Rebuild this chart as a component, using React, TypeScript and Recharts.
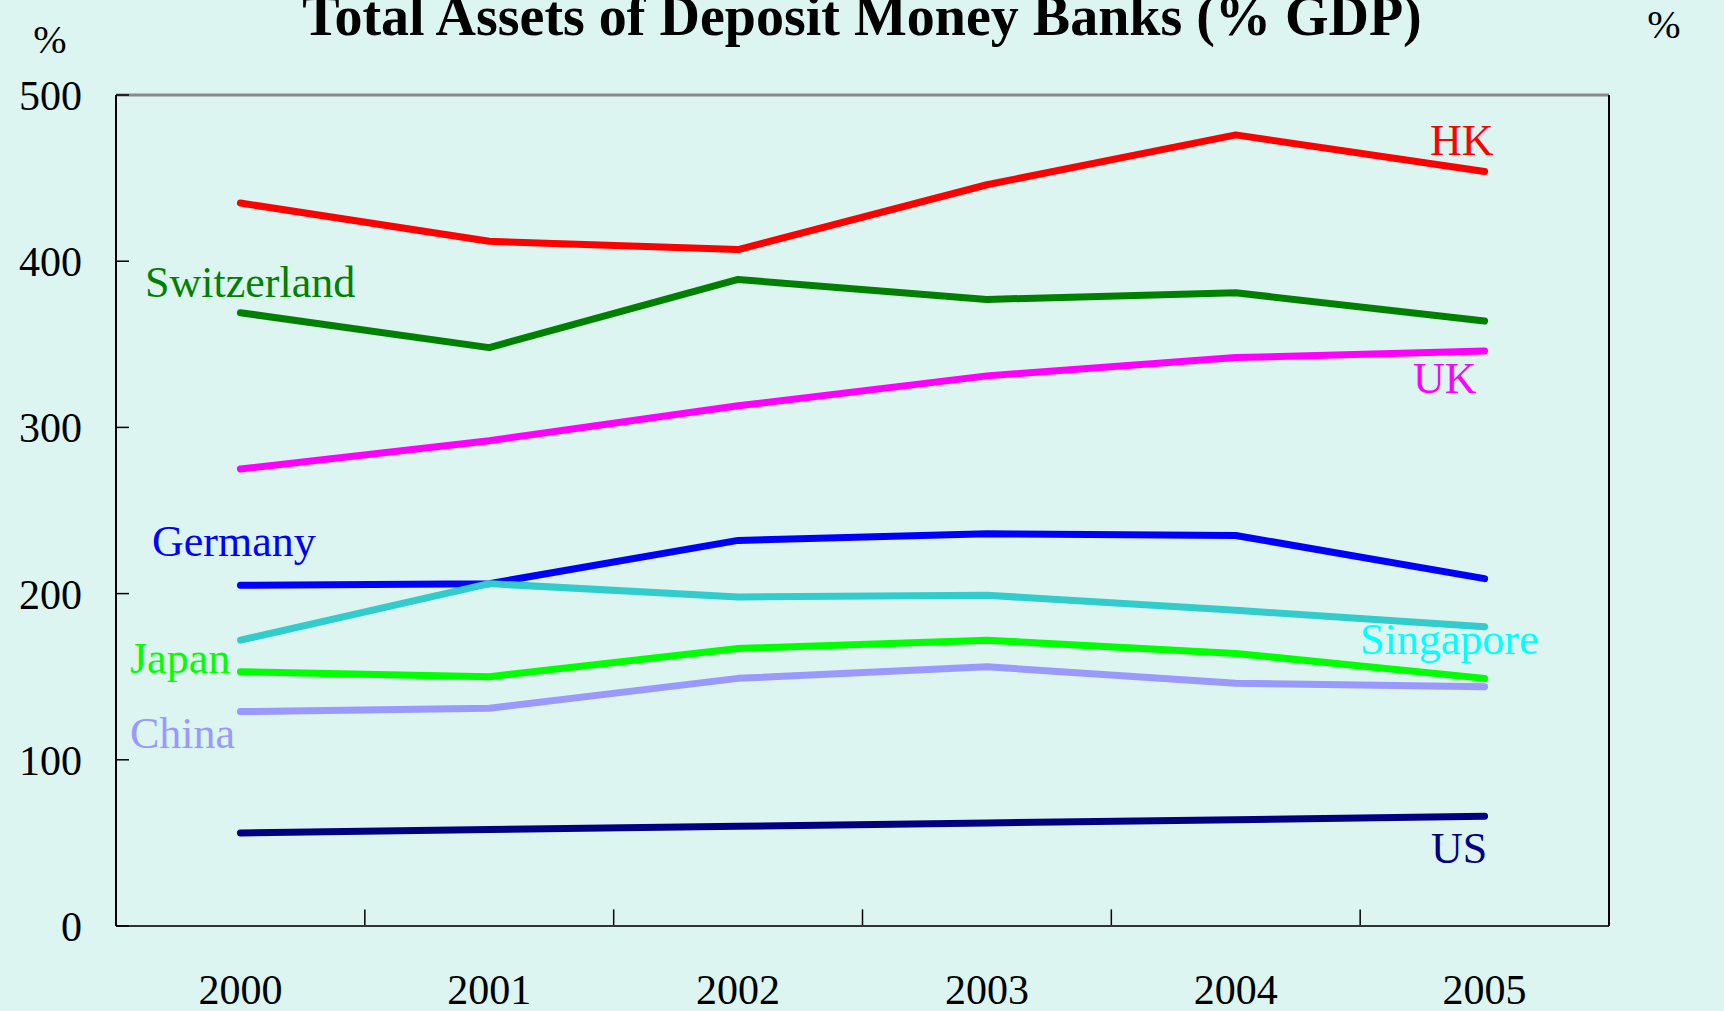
import React from "react";
import { LineChart, Line, XAxis, YAxis, CartesianGrid, ReferenceLine } from "recharts";

const years = ["2000", "2001", "2002", "2003", "2004", "2005"];
const hk = [435, 412, 407, 446, 476, 454];
const switzerland = [369, 348, 389, 377, 381, 364];
const uk = [275, 292, 313, 331, 342, 346];
const germany = [205, 206, 232, 236, 235, 209];
const singapore = [172, 206, 198, 199, 190, 180];
const japan = [153, 150, 167, 172, 164, 149];
const china = [129, 131, 149, 156, 146, 144];
const us = [56, 58, 60, 62, 64, 66];
const yTicks = [0, 100, 200, 300, 400, 500];
const dividers = [0.5, 1.5, 2.5, 3.5, 4.5];

const series = [
  { key: "hk", label: "HK", values: hk, color: "#ff0000", textColor: "#ff0000", lx: 1430, ly: 155 },
  { key: "sw", label: "Switzerland", values: switzerland, color: "#008000", textColor: "#008000", lx: 145, ly: 297 },
  { key: "uk", label: "UK", values: uk, color: "#ff00ff", textColor: "#ff00ff", lx: 1413, ly: 393 },
  { key: "de", label: "Germany", values: germany, color: "#0000ff", textColor: "#0000ff", lx: 152, ly: 556 },
  { key: "sg", label: "Singapore", values: singapore, color: "#33cccc", textColor: "#00ffff", lx: 1360, ly: 654 },
  { key: "jp", label: "Japan", values: japan, color: "#00ff00", textColor: "#00ff00", lx: 130, ly: 673 },
  { key: "cn", label: "China", values: china, color: "#9999ff", textColor: "#9999ff", lx: 130, ly: 748 },
  { key: "us", label: "US", values: us, color: "#000080", textColor: "#000080", lx: 1431, ly: 863 },
];

const data = years.map((y, i) => {
  const row: Record<string, number> = { i };
  series.forEach((s) => (row[s.key] = s.values[i]));
  return row;
});

const W = 1724;
const H = 1011;
const BG = "#ddf5f1";
const FONT = "'Liberation Serif', 'Times New Roman', serif";
const tickStyle = { fontSize: 42, fontFamily: FONT, fill: "#000" };

export default function App() {
  return (
    <div style={{ position: "absolute", left: 0, top: 0, width: W, height: H, background: BG, overflow: "hidden" }}>
      <LineChart width={W} height={H} data={data} margin={{ top: 95, right: 0, bottom: 0, left: 0 }}>
        <CartesianGrid vertical={false} stroke="#222" strokeWidth={1.5} />
        <XAxis
          dataKey="i"
          type="number"
          domain={[-0.5, 5.5]}
          ticks={[0, 1, 2, 3, 4, 5]}
          tickFormatter={(v) => years[v]}
          height={85}
          tickLine={false}
          tickSize={0}
          tickMargin={48}
          tick={tickStyle}
          axisLine={{ stroke: "#333", strokeWidth: 2 }}
        />
        <YAxis
          yAxisId="left"
          domain={[0, 500]}
          ticks={yTicks}
          width={116}
          tickSize={-13}
          tickMargin={47}
          tick={tickStyle}
          tickLine={{ stroke: "#000", strokeWidth: 1.5 }}
          axisLine={{ stroke: "#000", strokeWidth: 2 }}
        />
        <YAxis
          yAxisId="right"
          orientation="right"
          domain={[0, 500]}
          ticks={yTicks}
          width={115}
          tickSize={-13}
          tickMargin={48}
          tick={tickStyle}
          tickLine={{ stroke: "#000", strokeWidth: 1.5 }}
          axisLine={{ stroke: "#000", strokeWidth: 2 }}
        />
        <ReferenceLine yAxisId="left" y={500} stroke="#8a8a8a" strokeWidth={3} />
        {dividers.map((d) => (
          <ReferenceLine
            key={d}
            yAxisId="left"
            segment={[{ x: d, y: 0 }, { x: d, y: 10 }]}
            stroke="#000"
            strokeWidth={1.5}
          />
        ))}
        {series.map((s) => (
          <Line
            key={s.key}
            yAxisId="left"
            dataKey={s.key}
            type="linear"
            stroke={s.color}
            strokeWidth={7}
            strokeLinecap="round"
            strokeLinejoin="round"
            dot={false}
            activeDot={false}
            isAnimationActive={false}
          />
        ))}
      </LineChart>
      <svg width={W} height={H} style={{ position: "absolute", left: 0, top: 0, pointerEvents: "none" }}>
        <text x={862} y={35} textAnchor="middle" fontFamily={FONT} fontWeight="bold" fontSize={56} fill="#000">
          Total Assets of Deposit Money Banks (% GDP)
        </text>
        <text x={50} y={53} textAnchor="middle" fontFamily={FONT} fontSize={40} fill="#000">%</text>
        <text x={1664} y={38} textAnchor="middle" fontFamily={FONT} fontSize={40} fill="#000">%</text>
        {series.map((s) => (
          <text key={s.key} x={s.lx} y={s.ly} fontFamily={FONT} fontSize={44} fill={s.textColor}>
            {s.label}
          </text>
        ))}
      </svg>
    </div>
  );
}
